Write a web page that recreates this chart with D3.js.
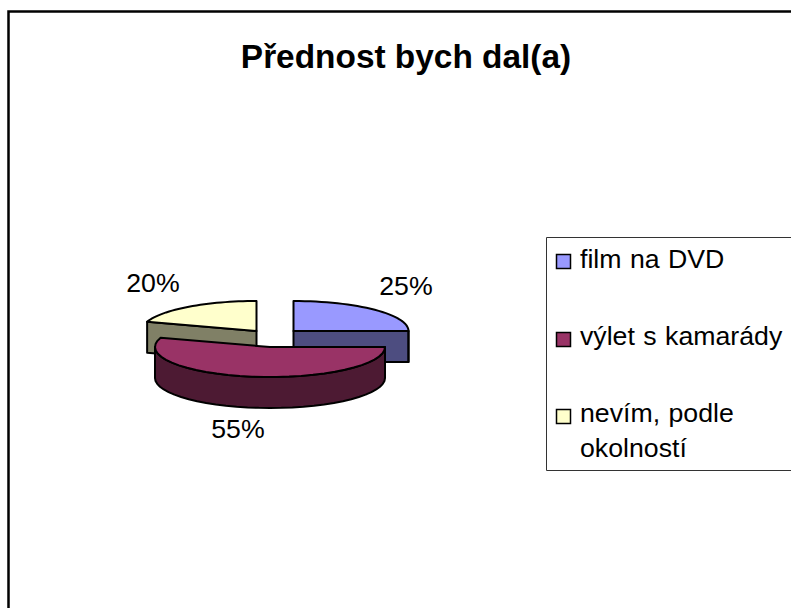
<!DOCTYPE html>
<html><head><meta charset="utf-8">
<script src="https://cdn.jsdelivr.net/npm/d3@7"></script>
<style>html,body{margin:0;padding:0;background:#fff}svg{display:block}text{font-family:"Liberation Sans",Arial,sans-serif;fill:#000}</style>
</head><body><svg id="c" width="791" height="608"></svg>
<script>
const title = "Přednost bych dal(a)";
const categories = ["film na DVD", "výlet s kamarády", "nevím, podle okolností"];
const legendLines = [["film na DVD"], ["výlet s kamarády"], ["nevím, podle", "okolností"]];
const values = [25, 55, 20];
const topColors = ["#9999FF", "#993366", "#FFFFCC"];
const sideColors = ["#4D4D80", "#4D1A33", "#808066"];
const sliceCentres = [[293.5, 331], [270, 347], [256.5, 331]];
const labelAnchors = [[406, 295], [238, 438], [153, 292]];
const legendSwatchY = [254, 332, 409];
const legendBaselines = [[268], [345], [422, 457]];

const svg = d3.select("#c");
const RX = 115, RY = 30, DEPTH = 31;
const ink = "#000";

svg.append("path").attr("d", "M8.5 608V11.5H791").attr("fill", "none").attr("stroke", ink).attr("stroke-width", 2.5);
svg.append("text").attr("x", 406).attr("y", 68).attr("text-anchor", "middle")
  .attr("font-size", 33.4).attr("font-weight", "bold").text(title);

const pie = d3.pie().sort(null).value(d => d)(values);
const pt = (c, a, r = 1, dz = 0) => [c[0] + RX * r * Math.sin(a), c[1] - RY * r * Math.cos(a) + dz];
const line = d3.line();
const steps = (a0, a1) => d3.range(0, 33).map(i => a0 + (a1 - a0) * i / 32);

[2, 0, 1].forEach(i => {
  const s = pie[i], c = sliceCentres[i];
  const g = svg.append("g").attr("stroke", ink).attr("stroke-width", 2).attr("stroke-linejoin", "round");
  // cut face that faces the viewer
  const cutA = i === 0 ? s.endAngle : s.startAngle;
  if (i !== 1) {
    g.append("path").attr("fill", sideColors[i]).attr("d", line([
      c, pt(c, cutA), pt(c, cutA, 1, DEPTH), pt(c, 0, 0, DEPTH)
    ]) + "Z");
  }
  // outer wall, on the front half only
  const a0 = Math.max(s.startAngle, Math.PI / 2), a1 = Math.min(s.endAngle, 3 * Math.PI / 2);
  if (a1 > a0) {
    const arcPts = steps(a0, a1);
    g.append("path").attr("fill", sideColors[i]).attr("d", line([
      ...arcPts.map(a => pt(c, a)),
      ...arcPts.slice().reverse().map(a => pt(c, a, 1, DEPTH))
    ]) + "Z");
  }
  // top face
  g.append("path").attr("fill", topColors[i]).attr("d", line([
    c, ...steps(s.startAngle, s.endAngle).map(a => pt(c, a))
  ]) + "Z");
  svg.append("text").attr("x", labelAnchors[i][0]).attr("y", labelAnchors[i][1])
    .attr("text-anchor", "middle").attr("font-size", 26.7).text(values[i] + "%");
});

svg.append("path").attr("d", "M791 237.5H546.5V470.5H791").attr("fill", "#fff").attr("stroke", "#333").attr("stroke-width", 1);
categories.forEach((name, i) => {
  svg.append("rect").attr("x", 556.5).attr("y", legendSwatchY[i] + .5).attr("width", 14).attr("height", 14)
    .attr("fill", topColors[i]).attr("stroke", ink).attr("stroke-width", 1.5);
  legendLines[i].forEach((t, j) => {
    svg.append("text").attr("x", 580).attr("y", legendBaselines[i][j]).attr("font-size", 26.7).attr("word-spacing", 1).text(t);
  });
});
</script></body></html>
